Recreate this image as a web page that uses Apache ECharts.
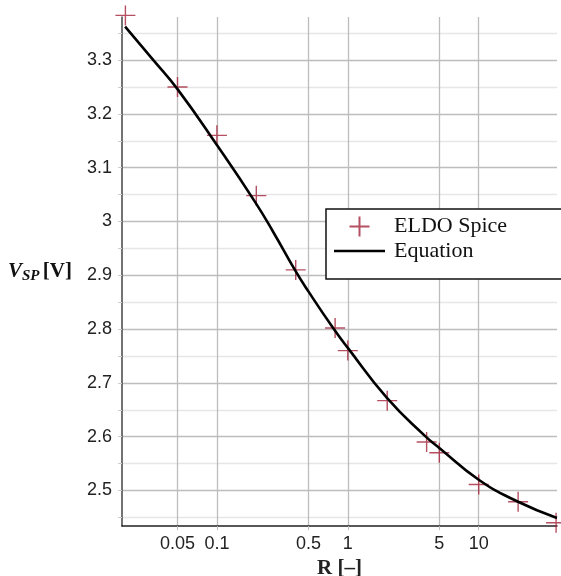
<!DOCTYPE html>
<html>
<head>
<meta charset="utf-8">
<title>VSP vs R</title>
<style type="text/css">
    *{ margin:0; padding:0; }
    html,body{ width:100%; height:100%; background:#fff; }
    #main{ width:561px; height:576px; }
</style>
</head>
<body>
<div id="main"></div>
<script src="https://cdn.jsdelivr.net/npm/echarts@6/dist/echarts.min.js"></script>
<script type="text/javascript">
    // ELDO Spice simulation points
    var spiceR = [0.02, 0.05, 0.1, 0.2, 0.4, 0.8, 1, 2, 4, 5, 10, 20, 39];
    var spiceV = [3.383, 3.250, 3.160, 3.048, 2.910, 2.802, 2.760, 2.667, 2.590, 2.570, 2.511, 2.479, 2.440];

    // equation curve
    var eqR = [0.0199, 0.0327, 0.05, 0.1, 0.196, 0.27, 0.396, 0.5, 0.777, 1, 1.99, 3.9, 5, 10, 19.6, 39.6];
    var eqV = [3.362, 3.300, 3.246, 3.142, 3.036, 2.980, 2.909, 2.870, 2.801, 2.765, 2.672, 2.601, 2.579, 2.520, 2.480, 2.449];

    // axis ticks
    var xTickR = [0.05, 0.1, 0.5, 1, 5, 10];
    var yGridTicks = [2.45, 2.5, 2.55, 2.6, 2.65, 2.7, 2.75, 2.8, 2.85, 2.9, 2.95, 3.0, 3.05, 3.1, 3.15, 3.2, 3.25, 3.3, 3.35];
    var yLabelTicks = [2.5, 2.6, 2.7, 2.8, 2.9, 3.0, 3.1, 3.2, 3.3];

    var xMin = -1.725, xMax = 1.598;   // log10(R)
    var yMin = 2.434, yMax = 3.380;

    function lg(r){ return Math.log10(r); }

    var xTicks = xTickR.map(lg);
    var spiceData = spiceR.map(function(r, i){ return [lg(r), spiceV[i]]; });
    var eqData = eqR.map(function(r, i){ return [lg(r), eqV[i]]; });

    var sans = 'Liberation Sans, Arial, sans-serif';
    var serif = 'Liberation Serif, Times New Roman, serif';

    var myChart = echarts.init(document.getElementById('main'), null, {renderer: 'canvas'});

    var option = {
        animation: false,
        grid: { left: 122, right: 4, top: 17, bottom: 50, containLabel: false, outerBoundsMode: 'none' },
        legend: {
            left: 326, top: 209,
            orient: 'vertical',
            backgroundColor: '#fff',
            borderColor: '#111',
            borderWidth: 1.5,
            borderRadius: 0,
            padding: [5, 80, 17, 8],
            itemWidth: 51,
            itemHeight: 20,
            itemGap: 1,
            textStyle: { fontFamily: serif, fontSize: 22, lineHeight: 22, color: '#111', padding: [0, 0, 0, 4] },
            data: [
                { name: 'ELDO Spice' },
                { name: 'Equation', icon: 'path://M0,0H51V2.6H0Z', itemStyle: { color: '#000' } }
            ]
        },
        xAxis: {
            type: 'value',
            min: xMin, max: xMax,
            name: 'R [–]',
            nameLocation: 'middle',
            nameGap: 31,
            nameTextStyle: { fontFamily: serif, fontWeight: 'bold', fontSize: 21, color: '#222' },
            axisLine: { show: true, onZero: false, lineStyle: { color: '#222', width: 1.5 } },
            axisTick: { show: true, length: 4, customValues: xTicks, lineStyle: { color: '#bbb' } },
            axisLabel: {
                customValues: xTicks,
                margin: 9,
                fontFamily: sans, fontSize: 18, color: '#222',
                formatter: function(v){ return String(+Math.pow(10, v).toPrecision(3)); }
            },
            splitLine: { show: true, lineStyle: { color: '#bdbdbd', width: 1.3 } }
        },
        yAxis: {
            type: 'value',
            min: yMin, max: yMax,
            name: '{v|V}{s|SP} {b|[V]}',
            nameLocation: 'middle',
            nameRotate: 0,
            nameGap: 50,
            nameTextStyle: {
                rich: {
                    v: { fontFamily: serif, fontStyle: 'italic', fontWeight: 'bold', fontSize: 21, color: '#111' },
                    s: { fontFamily: serif, fontStyle: 'italic', fontWeight: 'bold', fontSize: 15, color: '#111', padding: [10, 0, 0, 0] },
                    b: { fontFamily: serif, fontWeight: 'bold', fontSize: 21, color: '#111' }
                }
            },
            axisLine: { show: true, onZero: false, lineStyle: { color: '#444', width: 1.5 } },
            axisTick: { show: true, length: 4, customValues: yGridTicks, lineStyle: { color: '#ccc' } },
            axisLabel: {
                customValues: yLabelTicks,
                margin: 10,
                fontFamily: sans, fontSize: 18, color: '#222',
                formatter: function(v){ return String(+v.toFixed(2)); }
            },
            splitLine: { show: true, lineStyle: { color: ['#e6e6e6', '#bdbdbd'], width: 1.3 } }
        },
        series: [
            {
                name: 'ELDO Spice',
                type: 'scatter',
                data: spiceData,
                symbol: 'path://M10,0L10,20M0,10L20,10',
                symbolSize: 20,
                clip: false,
                itemStyle: { color: 'none', borderColor: '#a3233a', borderWidth: 1.4 },
                z: 3
            },
            {
                name: 'Equation',
                type: 'line',
                data: eqData,
                smooth: 0.5,
                showSymbol: false,
                symbol: 'none',
                clip: false,
                lineStyle: { color: '#000', width: 2.6 },
                itemStyle: { color: '#000' },
                z: 4
            }
        ]
    };
    myChart.setOption(option);
</script>
</body>
</html>
